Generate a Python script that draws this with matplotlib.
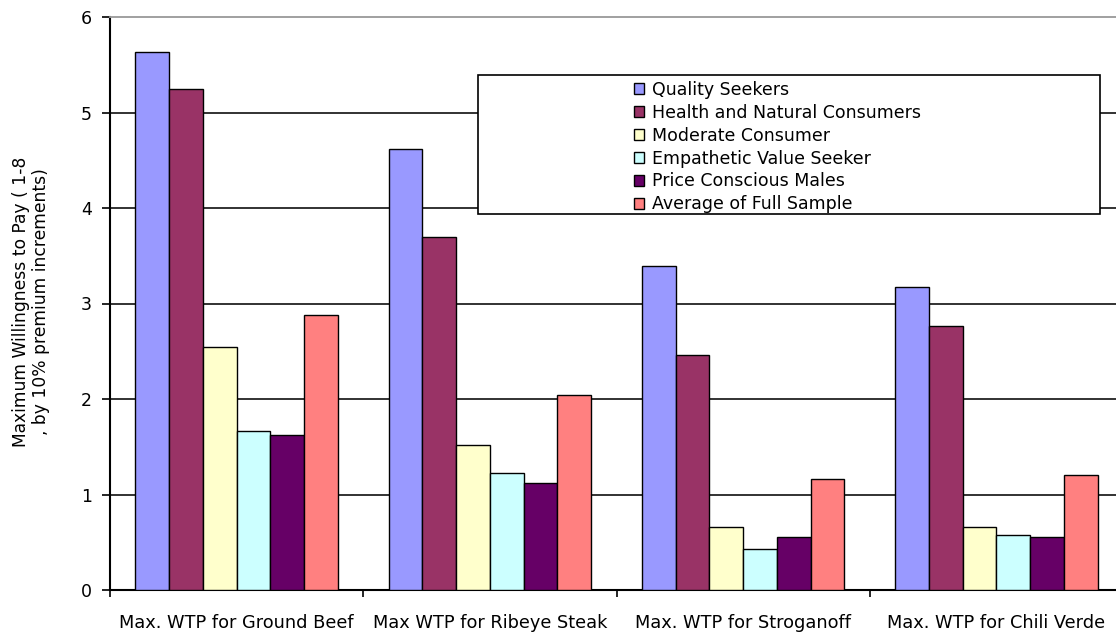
import matplotlib
matplotlib.use("Agg")
import matplotlib.pyplot as plt
from matplotlib.patches import Rectangle
import numpy as np

categories = ["Max. WTP for Ground Beef", "Max WTP for Ribeye Steak",
              "Max. WTP for Stroganoff", "Max. WTP for Chili Verde"]
segments = ["Quality Seekers", "Health and Natural Consumers", "Moderate Consumer",
            "Empathetic Value Seeker", "Price Conscious Males", "Average of Full Sample"]
quality_seekers = [5.63, 4.62, 3.39, 3.17]
health_natural = [5.25, 3.70, 2.46, 2.76]
moderate = [2.54, 1.52, 0.66, 0.66]
empathetic = [1.66, 1.23, 0.43, 0.58]
price_males = [1.62, 1.12, 0.56, 0.56]
full_sample = [2.88, 2.04, 1.16, 1.20]
series = [quality_seekers, health_natural, moderate, empathetic, price_males, full_sample]
colors = ["#9999FF", "#993366", "#FFFFCC", "#CCFFFF", "#660066", "#FF8080"]

W, H = 1116, 633
plt.rcParams["font.family"] = ["DejaVu Sans"]
fig = plt.figure(figsize=(W / 100, H / 100), dpi=100)

# plot area runs slightly past the right edge of the canvas
x0, x1, ytop, ybot = 110, 1123, 17, 590
ax = fig.add_axes([x0 / W, 1 - ybot / H, (x1 - x0) / W, (ybot - ytop) / H])

x = np.arange(len(categories))
bw = 1 / 7.5
handles = []
for i, (vals, c) in enumerate(zip(series, colors)):
    h = ax.bar(x + (i - 2.5) * bw, vals, width=bw, color=c, edgecolor="black",
               linewidth=1.0, zorder=3, label=segments[i])
    handles.append(h)

ax.set_xlim(-0.5, len(categories) - 0.5)
ax.set_ylim(0, 6)
ax.set_yticks(range(0, 7))
for yv in range(1, 6):
    ax.axhline(yv, color="#222222", linewidth=1.3, zorder=1)

ax.set_xticks(x)
ax.set_xticklabels(categories, fontsize=12.8)
ax.set_xticks(np.arange(-0.5, len(categories)), minor=True)
ax.tick_params(axis="x", which="major", length=0, pad=17)
ax.tick_params(axis="x", which="minor", length=5, width=1.2, direction="out", color="black")
ax.tick_params(axis="y", length=6, width=1.2, direction="out", labelsize=12.5, pad=7)

for s in ["left", "bottom"]:
    ax.spines[s].set_color("black")
    ax.spines[s].set_linewidth(1.5)
ax.spines["right"].set_visible(False)
ax.spines["top"].set_color("#999999")
ax.spines["top"].set_linewidth(1.3)

fig.text(31 / W, 1 - 302 / H,
         "Maximum Willingness to Pay ( 1-8\n, by 10% premium increments)",
         rotation=90, ha="center", va="center", fontsize=12.3, linespacing=1.15)

# legend frame
ax.add_patch(Rectangle((478 / W, 1 - 214 / H), (1100 - 478) / W, (214 - 75) / H,
                       transform=fig.transFigure, facecolor="white", edgecolor="black",
                       linewidth=1.2, zorder=5, clip_on=False))
leg = ax.legend(handles=handles, loc="upper left",
                bbox_to_anchor=(634 / W, 1 - 81 / H), bbox_transform=fig.transFigure,
                frameon=False, fontsize=12.5, handlelength=0.6, handleheight=0.6,
                handletextpad=0.45, labelspacing=0.28, borderpad=0, borderaxespad=0)
leg.set_zorder(6)

fig.savefig("out.png", dpi=100)
